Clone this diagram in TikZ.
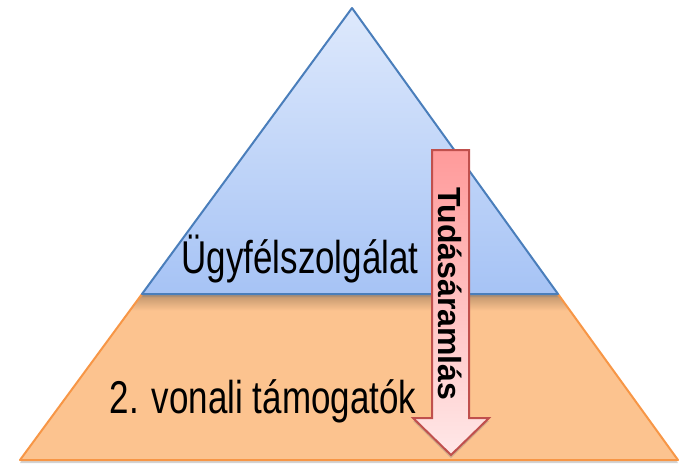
\documentclass[tikz,border=0pt]{standalone}
\usepackage{fontspec}
\setmainfont{Liberation Sans}
\usepackage{xcolor}
\usepackage{tikz}
\usetikzlibrary{shadows, calc}
\definecolor{KekVilagos}  {RGB}{222,233,252}
\definecolor{Kek}         {RGB}{166,195,245}
\definecolor{KekVonal}    {RGB}{74, 126,187}
\definecolor{Narancs}     {RGB}{252,195,143}
\definecolor{NarancsVonal}{RGB}{247,150, 70}
\definecolor{Piros}       {RGB}{255,154,154}
\definecolor{PirosHalvany}{RGB}{255,232,232}
\definecolor{PirosVonal}  {RGB}{192, 80, 77}

\begin{document}
\begin{tikzpicture}[x=1pt,y=-1pt,
    felirat/.style={text=black,inner sep=0pt,font=\fontsize{46}{52}\selectfont},
    arnyek/.style={drop shadow={shadow xshift=0pt,shadow yshift=-3pt,opacity=.35}}]
  \useasboundingbox (0,0) rectangle (679,463);
  % piramis also resze
  \coordinate (csucs) at (352,8);
  \coordinate (bal)   at (142,294);
  \coordinate (jobb)  at (558,294);
  \coordinate (alsobal)  at (20,460);
  \coordinate (alsojobb) at (678,460);
  \fill[Narancs,arnyek] (bal)--(jobb)--(alsojobb)--(alsobal)--cycle;
  \shade[top color=black!25!Narancs,bottom color=Narancs,shading angle=0]
    (bal)--(jobb)--($(jobb)!0.1!(alsojobb)$)--($(bal)!0.1!(alsobal)$)--cycle;
  \draw[NarancsVonal,line width=2pt,line join=round] (bal)--(alsobal)--(alsojobb)--(jobb);
  % piramis felso resze
  \shade[top color=KekVilagos,bottom color=Kek,arnyek]
    (csucs)--(jobb)--(bal)--cycle;
  \draw[KekVonal,line width=2pt,line join=round] (csucs)--(jobb)--(bal)--cycle;
  \node[felirat,anchor=base] (ugyfel) at (300,273) {\scalebox{0.76}[1]{Ügyfélszolgálat}};
  \node[felirat,anchor=base] (vonal)  at (263,413) {\scalebox{0.76}[1]{2. vonali támogatók}};
  % tudasaramlas nyil
  \shade[top color=Piros,bottom color=PirosHalvany,arnyek]
    (432,150)--(469,150)--(469,418)--(489,418)--(451,455)--(413,418)--(432,418)--cycle;
  \draw[PirosVonal,line width=2pt,line join=miter]
    (432,150)--(469,150)--(469,418)--(489,418)--(451,455)--(413,418)--(432,418)--cycle;
  \node[text=black,font=\fontsize{32}{36}\selectfont\bfseries,rotate=-90] (tudas) at (450,294) {Tudásáramlás};
\end{tikzpicture}
\end{document}
